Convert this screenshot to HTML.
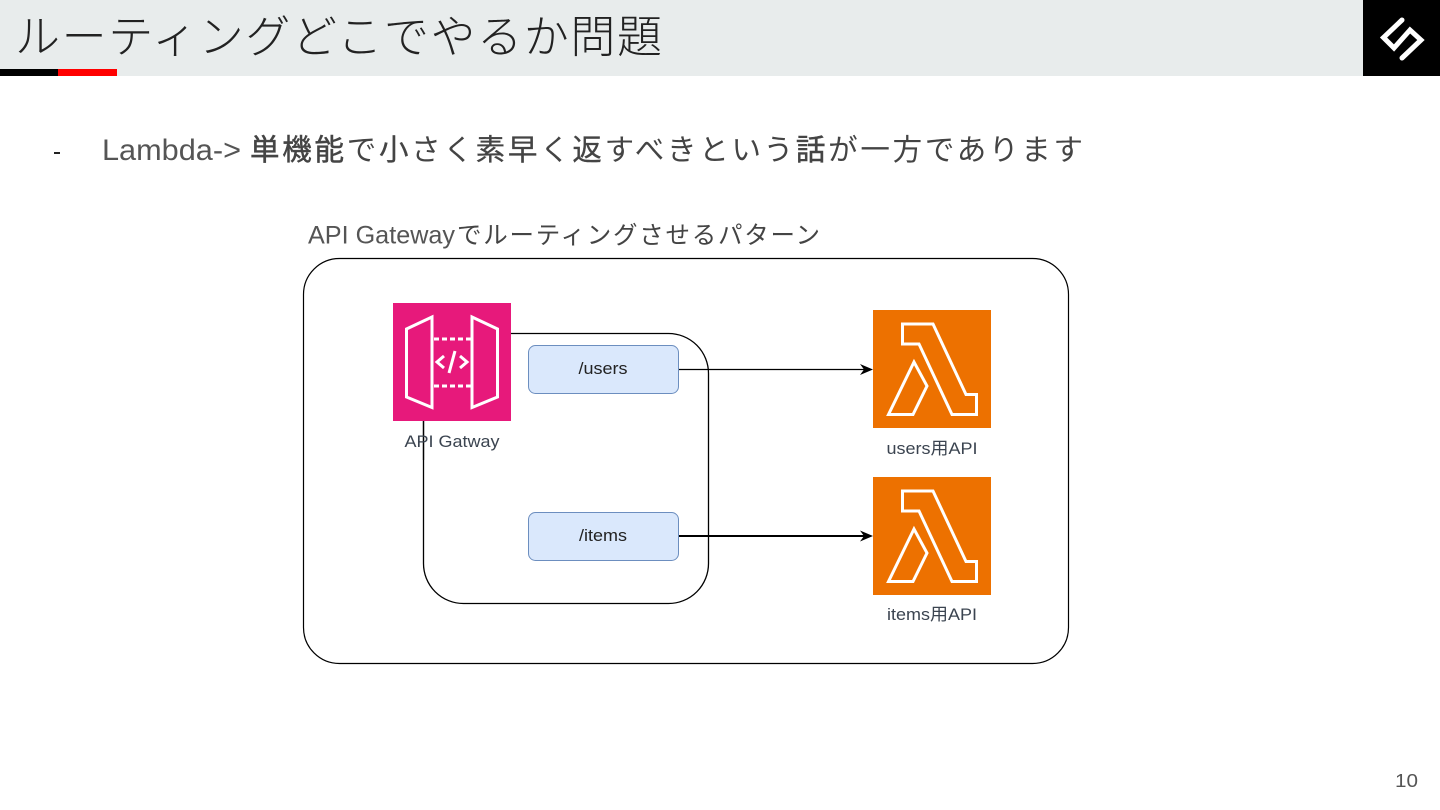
<!DOCTYPE html>
<html lang="ja"><head><meta charset="utf-8"><style>
html,body{margin:0;padding:0;background:#fff;width:1440px;height:810px;overflow:hidden}
svg{display:block}
text{font-family:"Liberation Sans","Noto Sans CJK JP",sans-serif}
.soft{filter:blur(0.35px)}
</style></head><body>
<svg width="1440" height="810" viewBox="0 0 1440 810" xmlns="http://www.w3.org/2000/svg">
<rect width="1440" height="810" fill="#fff"/>
<rect width="1363" height="76" fill="#e8ecec"/>
<rect x="1363" width="77" height="76" fill="#000"/>
<rect y="69" width="58" height="7" fill="#000"/>
<rect x="58" y="69" width="59" height="7" fill="#f00"/>
<path d="M1402 20 L1383.500 37.500 L1394 48 L1410 30 L1421 40 L1402 58" fill="none" stroke="#fff" stroke-width="5" stroke-linecap="round" stroke-linejoin="miter"/>
<text x="15" y="52.500" font-size="45" font-weight="300" fill="#222" textLength="647" lengthAdjust="spacing">ルーティングどこでやるか問題</text>

<rect x="54" y="152" width="6" height="2" fill="#222"/>
<text x="102" y="160" font-size="30" fill="#555" textLength="139" lengthAdjust="spacingAndGlyphs">Lambda-&gt;</text>
<text x="250" y="160" font-size="29.500" fill="#444" textLength="833" lengthAdjust="spacing"><tspan stroke="#444" stroke-width=".5">単機能</tspan>で<tspan stroke="#444" stroke-width=".3">小</tspan>さく<tspan stroke="#444" stroke-width=".3">素早</tspan>く<tspan stroke="#444" stroke-width=".3">返</tspan>すべきという<tspan stroke="#444" stroke-width=".5">話</tspan>が一方であります</text>
<text x="308" y="243.500" font-size="25" fill="#555" textLength="147" lengthAdjust="spacingAndGlyphs">API Gateway</text>
<text x="457" y="243.500" font-size="24.500" fill="#444" textLength="363" lengthAdjust="spacing">でルーティングさせるパターン</text>

<g class="soft">
<rect x="303.500" y="258.500" width="765" height="405" rx="36" fill="#fff" stroke="#000" stroke-width="1.200"/>
<rect x="423.500" y="333.500" width="285" height="270" rx="40" fill="none" stroke="#000" stroke-width="1.300"/>

<rect x="393" y="303" width="118" height="118" fill="#e7197b"/>
<g fill="none" stroke="#fff" stroke-width="3">
<path d="M432 317 L406.500 329 V397 L432 407.500 Z"/>
<path d="M472 317 L497.500 329 V397 L472 407.500 Z"/>
<path d="M434 339 H471 M434 386 H471" stroke-dasharray="5 3"/>
<path d="M444 356 L437 362 L444 368 M460 356 L467 362 L460 368 M455 351 L449 373"/>
</g>

<path d="M423.500 421 V460" stroke="#000" stroke-width="1.300"/>
<text x="452" y="447" font-size="17" fill="#3b4450" text-anchor="middle" textLength="95" lengthAdjust="spacingAndGlyphs">API Gatway</text>

<rect x="528.500" y="345.500" width="150" height="48" rx="7" fill="#dae8fc" stroke="#6c8ebf"/>
<text x="603" y="374" font-size="17" fill="#222" text-anchor="middle" textLength="49" lengthAdjust="spacingAndGlyphs">/users</text>
<rect x="528.500" y="512.500" width="150" height="48" rx="7" fill="#dae8fc" stroke="#6c8ebf"/>
<text x="603" y="541" font-size="17" fill="#222" text-anchor="middle" textLength="48" lengthAdjust="spacingAndGlyphs">/items</text>

<path d="M679 369.500 H864" stroke="#000" stroke-width="1.300"/>
<path d="M873 369.500 L860 364 L864 369.500 L860 375 Z" fill="#000"/>
<path d="M679 536 H864" stroke="#000" stroke-width="2"/>
<path d="M873 536 L860 530.500 L864 536 L860 541.500 Z" fill="#000"/>

<rect x="873" y="310" width="118" height="118" fill="#ed7100"/>
<g fill="none" stroke="#fff" stroke-width="3">
<path d="M902.500 324 H933 L966 394.500 H976.500 V414.500 H952 L919 344 H902.500 Z"/>
<path d="M914 362 L888.500 414.500 H913 L927 386 Z"/>
</g>
<text x="932" y="454" font-size="17" fill="#3b4450" text-anchor="middle" textLength="91" lengthAdjust="spacingAndGlyphs">users用API</text>

<rect x="873" y="477" width="118" height="118" fill="#ed7100"/>
<g fill="none" stroke="#fff" stroke-width="3">
<path d="M902.500 491 H933 L966 561.500 H976.500 V581.500 H952 L919 511 H902.500 Z"/>
<path d="M914 529 L888.500 581.500 H913 L927 553 Z"/>
</g>
<text x="932" y="620" font-size="17" fill="#3b4450" text-anchor="middle" textLength="90" lengthAdjust="spacingAndGlyphs">items用API</text>
</g>

<text x="1395" y="787" font-size="18" fill="#555" textLength="23" lengthAdjust="spacingAndGlyphs">10</text>
</svg>
</body></html>
